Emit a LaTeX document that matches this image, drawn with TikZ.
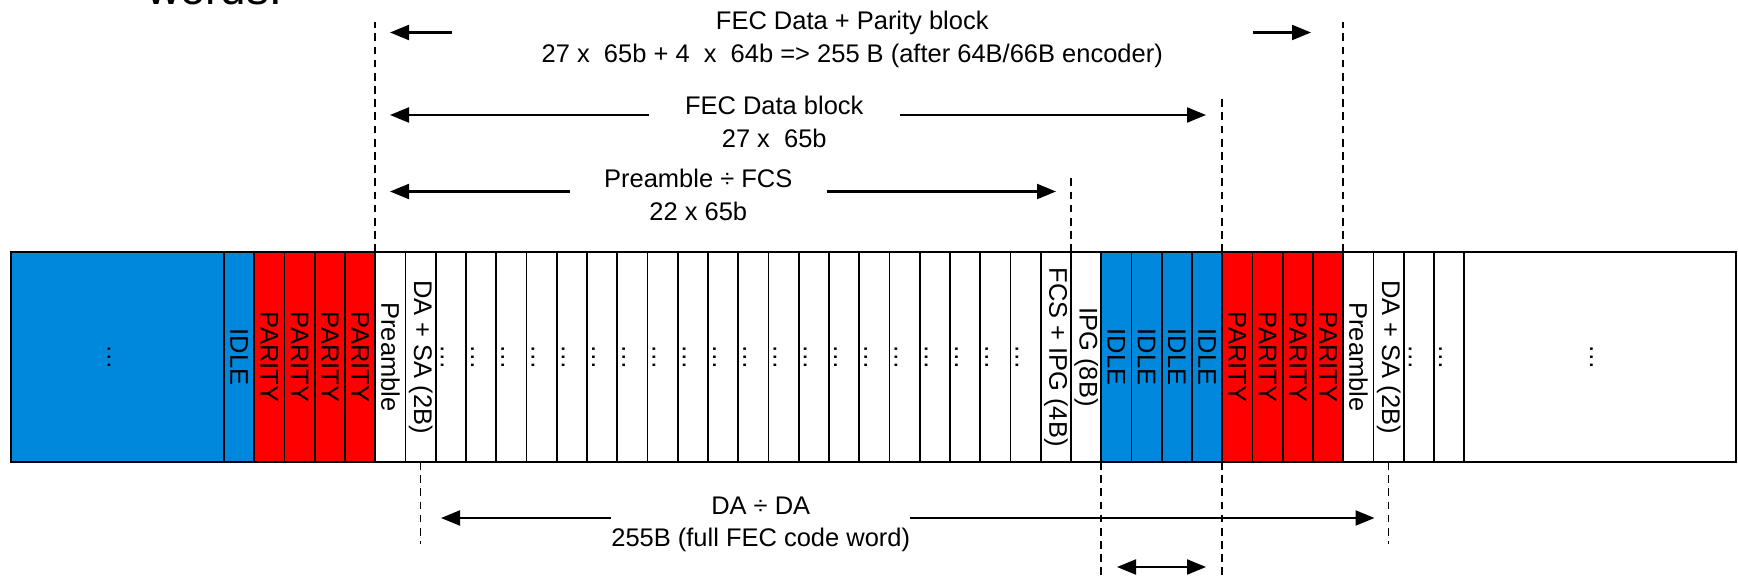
\documentclass[tikz,border=0pt]{standalone}
\usepackage{fontspec}
\setmainfont{Liberation Sans}
\usetikzlibrary{arrows.meta}
\definecolor{idleblue}{RGB}{0,136,221}
\definecolor{parityred}{RGB}{255,0,0}

\begin{document}
\begin{tikzpicture}[
    cell/.style={draw, line width=0.9pt, minimum width=0.605cm, minimum height=4.2cm, inner sep=0pt, outer sep=0pt},
    idle/.style={cell, fill=idleblue},
    parity/.style={cell, fill=parityred},
    vtext/.style={rotate=-90, inner sep=0pt, font=\fontsize{14.5}{18.4}\selectfont},
    ellip/.style={vtext, text height=0.4cm, text depth=0pt},
    note/.style={fill=white, align=center, inner sep=0pt, font=\fontsize{14.5}{18.4}\selectfont},
    guide/.style={line width=0.95pt, dash pattern=on 4.4pt off 3.1pt},
    span/.style={line width=1.2pt, {Triangle[length=0.38cm, width=0.3cm]}-{Triangle[length=0.38cm, width=0.3cm]}}
]
\useasboundingbox (0,0) rectangle (34.76,11.6);

\node[font=\fontsize{26}{30}\selectfont, anchor=base west, inner sep=0pt] (title) at (2.94,11.5) {words.};

% first code word tail
\node[idle, minimum width=4.26cm, label={[ellip]center:…}] (idle0) at (2.35,4.46) {};
\node[idle, label={[vtext]center:IDLE}] (idle1) at (4.7825,4.46) {};
\node[parity, label={[vtext]center:PARITY}] (par1) at (5.3875,4.46) {};
\node[parity, label={[vtext]center:PARITY}] (par2) at (5.9925,4.46) {};
\node[parity, label={[vtext]center:PARITY}] (par3) at (6.5975,4.46) {};
\node[parity, label={[vtext]center:PARITY}] (par4) at (7.2025,4.46) {};
% frame
\node[cell, label={[vtext]center:Preamble}] (pre1) at (7.8075,4.46) {};
\node[cell, label={[vtext]center:DA + SA (2B)}] (dasa1) at (8.4125,4.46) {};
\node[cell, label={[ellip]center:…}] (d1) at (9.0175,4.46) {};
\node[cell, label={[ellip]center:…}] (d2) at (9.6225,4.46) {};
\node[cell, label={[ellip]center:…}] (d3) at (10.2275,4.46) {};
\node[cell, label={[ellip]center:…}] (d4) at (10.8325,4.46) {};
\node[cell, label={[ellip]center:…}] (d5) at (11.4375,4.46) {};
\node[cell, label={[ellip]center:…}] (d6) at (12.0425,4.46) {};
\node[cell, label={[ellip]center:…}] (d7) at (12.6475,4.46) {};
\node[cell, label={[ellip]center:…}] (d8) at (13.2525,4.46) {};
\node[cell, label={[ellip]center:…}] (d9) at (13.8575,4.46) {};
\node[cell, label={[ellip]center:…}] (d10) at (14.4625,4.46) {};
\node[cell, label={[ellip]center:…}] (d11) at (15.0675,4.46) {};
\node[cell, label={[ellip]center:…}] (d12) at (15.6725,4.46) {};
\node[cell, label={[ellip]center:…}] (d13) at (16.2775,4.46) {};
\node[cell, label={[ellip]center:…}] (d14) at (16.8825,4.46) {};
\node[cell, label={[ellip]center:…}] (d15) at (17.4875,4.46) {};
\node[cell, label={[ellip]center:…}] (d16) at (18.0925,4.46) {};
\node[cell, label={[ellip]center:…}] (d17) at (18.6975,4.46) {};
\node[cell, label={[ellip]center:…}] (d18) at (19.3025,4.46) {};
\node[cell, label={[ellip]center:…}] (d19) at (19.9075,4.46) {};
\node[cell, label={[ellip]center:…}] (d20) at (20.5125,4.46) {};
\node[cell, label={[vtext]center:FCS + IPG (4B)}] (fcs) at (21.1175,4.46) {};
\node[cell, label={[vtext]center:IPG (8B)}] (ipg) at (21.7225,4.46) {};
% idles and parity
\node[idle, label={[vtext]center:IDLE}] (idle2) at (22.3275,4.46) {};
\node[idle, label={[vtext]center:IDLE}] (idle3) at (22.9325,4.46) {};
\node[idle, label={[vtext]center:IDLE}] (idle4) at (23.5375,4.46) {};
\node[idle, label={[vtext]center:IDLE}] (idle5) at (24.1425,4.46) {};
\node[parity, label={[vtext]center:PARITY}] (par5) at (24.7475,4.46) {};
\node[parity, label={[vtext]center:PARITY}] (par6) at (25.3525,4.46) {};
\node[parity, label={[vtext]center:PARITY}] (par7) at (25.9575,4.46) {};
\node[parity, label={[vtext]center:PARITY}] (par8) at (26.5625,4.46) {};
% next frame
\node[cell, label={[vtext]center:Preamble}] (pre2) at (27.1675,4.46) {};
\node[cell, label={[vtext]center:DA + SA (2B)}] (dasa2) at (27.7725,4.46) {};
\node[cell, label={[ellip]center:…}] (d21) at (28.3775,4.46) {};
\node[cell, label={[ellip]center:…}] (d22) at (28.9825,4.46) {};
\node[cell, minimum width=5.435cm, label={[ellip]center:…}] (tail) at (32.0025,4.46) {};
\draw[line width=1.2pt] (idle0.south west) rectangle (tail.north east);

% guide lines
\coordinate (topA) at (0,11.16);
\coordinate (topB) at (0,9.66);
\coordinate (topC) at (0,8.04);
\coordinate (botA) at (0,0.72);
\coordinate (botB) at (0,0);
\draw[guide] (pre1.north west) -- (pre1.north west |- topA);
\draw[guide] (par8.north east) -- (par8.north east |- topA);
\draw[guide] (par5.north west) -- (par5.north west |- topB);
\draw[guide] (fcs.north east) -- (fcs.north east |- topC);
\draw[guide] (dasa1.south) -- (dasa1.south |- botA);
\draw[guide] (dasa2.south) -- (dasa2.south |- botA);
\draw[guide] (idle2.south west) -- (idle2.south west |- botB);
\draw[guide] (idle5.south east) -- (idle5.south east |- botB);

% spans
\coordinate (fdpL) at (7.80,10.95);
\coordinate (fdpR) at (26.22,10.95);
\draw[span] (fdpL) -- (fdpR);
\node[note, minimum width=16.01cm] (fdp) at (17.045,10.81) {FEC Data + Parity block\\27 x\ \ 65b + 4\ \ x\ \ 64b => 255 B (after 64B/66B encoder)};

\coordinate (fdL) at (7.80,9.30);
\coordinate (fdR) at (24.12,9.30);
\draw[span] (fdL) -- (fdR);
\node[note, minimum width=5.03cm] (fd) at (15.485,9.16) {FEC Data block\\27 x\ \ 65b};

\coordinate (pfL) at (7.80,7.77);
\coordinate (pfR) at (21.12,7.77);
\draw[span] (pfL) -- (pfR);
\node[note, minimum width=5.13cm] (pf) at (13.965,7.70) {Preamble ÷ FCS\\22 x 65b};

\coordinate (daL) at (8.82,1.24);
\coordinate (daR) at (27.49,1.24);
\draw[span] (daL) -- (daR);
\node[note, minimum width=5.83cm] (da) at (15.215,1.11) {DA ÷ DA\\255B (full FEC code word)};

\coordinate (gapL) at (22.34,0.26);
\coordinate (gapR) at (24.12,0.26);
\draw[span] (gapL) -- (gapR);
\end{tikzpicture}
\end{document}
